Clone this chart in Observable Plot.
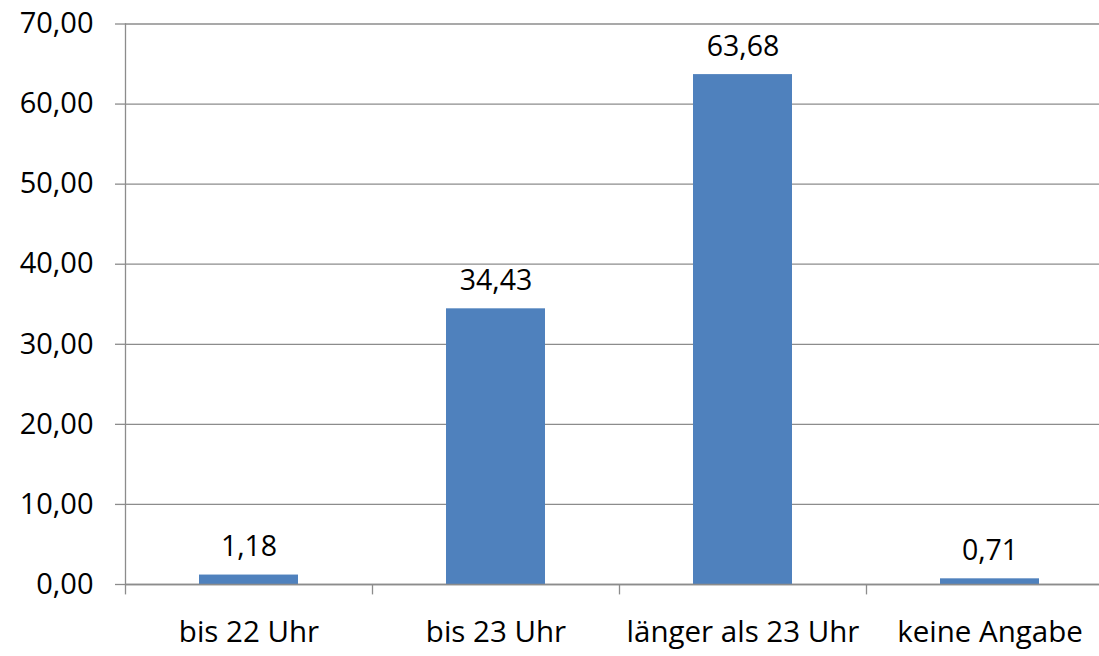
<!DOCTYPE html>
<html><head><meta charset="utf-8">
<script src="https://cdn.jsdelivr.net/npm/d3@7"></script>
<script src="https://cdn.jsdelivr.net/npm/@observablehq/plot@0.6"></script>
<style>
body{margin:0;background:#fff;overflow:hidden;}
svg{font-family:"Open Sans",sans-serif;}
</style></head>
<body><div id="chart"></div>
<script>
const categories = ["bis 22 Uhr", "bis 23 Uhr", "länger als 23 Uhr", "keine Angabe"];
const values = [1.18, 34.43, 63.68, 0.71];
const yTicks = [0, 10, 20, 30, 40, 50, 60, 70];

const data = categories.map((c, i) => ({cat: c, v: values[i]}));
const fmt = v => v.toFixed(2).replace(".", ",");
const gray = "#8c8c8c";
const bandStep = 247;

const plot = Plot.plot({
  width: 1099,
  height: 656,
  marginLeft: 125,
  marginRight: 1099 - (125 + 4 * bandStep),
  marginTop: 23.5,
  marginBottom: 72,
  style: {fontFamily: "Open Sans, sans-serif", color: "#000", background: "#fff", overflow: "hidden"},
  x: {domain: categories, paddingInner: 0.6, paddingOuter: 0.3, align: 0.5},
  y: {domain: [0, 70]},
  marks: [
    Plot.gridY(yTicks, {stroke: gray, strokeOpacity: 1, strokeWidth: 1.3}),
    Plot.axisY(yTicks, {tickSize: 10, tickPadding: 22, stroke: gray, strokeWidth: 1.3, fontSize: 29, tickFormat: fmt, label: null, fill: "#000"}),
    Plot.frame({anchor: "left", stroke: gray, strokeWidth: 1.3}),
    Plot.barY(data, {x: "cat", y: "v", fill: "#4f81bd"}),
    Plot.ruleY([0], {stroke: gray, strokeWidth: 1.3}),
    Plot.ruleX(categories, {x: d => d, dx: -bandStep / 2, y1: 0, y2: -1.3, stroke: gray, strokeWidth: 1.3}),
    Plot.axisX({tickSize: 0, tickPadding: 37, fontSize: 29.5, label: null, fill: "#000"}),
    Plot.text(data, {x: "cat", y: "v", text: d => fmt(d.v), dy: -28, fontSize: 28.5, fill: "#000"})
  ]
});
document.getElementById("chart").append(plot);
</script>
</body></html>
